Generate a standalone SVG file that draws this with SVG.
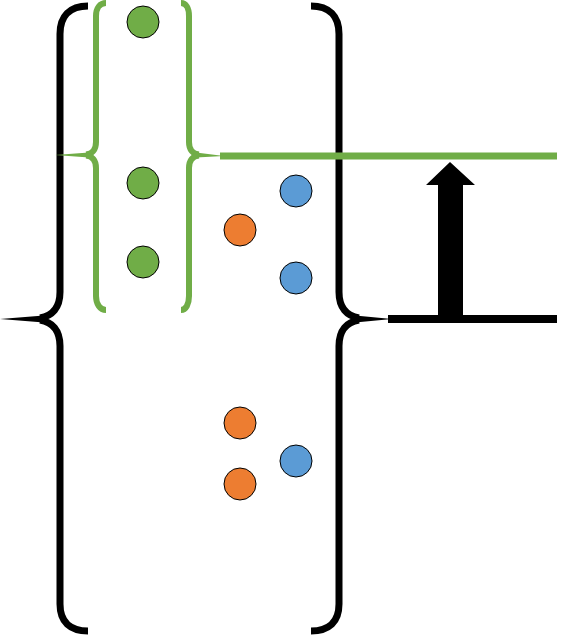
<svg xmlns="http://www.w3.org/2000/svg" width="563" height="636" viewBox="0 0 563 636">
<style>
.bk{fill:none;stroke:#000;stroke-width:7;stroke-linecap:butt}
.gn{fill:none;stroke:#70AD47;stroke-width:6;stroke-linecap:butt}
.g{fill:#70AD47;stroke:#000;stroke-width:1}
.o{fill:#ED7D31;stroke:#000;stroke-width:1}
.b{fill:#5B9BD5;stroke:#000;stroke-width:1}
</style>
<rect width="563" height="636" fill="#fff"/>
<g id="brace-outer-left">
<path class="bk" d="M88,6 C70,6 60,16 60,34 L60,292 C60,308 52,316 40,318"/>
<path class="bk" d="M40,320 C52,322 60,330 60,346 L60,604 C60,622 70,631 88,631"/>
<polygon points="44,315.5 44,322.5 0,319" fill="#000"/>
</g>
<g id="brace-outer-right">
<path class="bk" d="M311,6 C329,6 339,16 339,34 L339,292 C339,308 347,316 359,318"/>
<path class="bk" d="M359,320 C347,322 339,330 339,346 L339,604 C339,622 329,631 311,631"/>
<polygon points="355,315.5 355,322.5 392,319" fill="#000"/>
</g>
<g id="brace-green-left">
<path class="gn" d="M106,3 C100,3 96,8 96,16 L96,142 C96,150 92,154 86,154.5"/>
<path class="gn" d="M86,155.5 C92,156 96,160 96,168 L96,296 C96,304 100,310 106,310"/>
<polygon points="89,152.5 89,157.5 55,155" fill="#70AD47"/>
</g>
<g id="brace-green-right">
<path class="gn" d="M181,3 C186,3 189,8 189,16 L189,142 C189,150 193,154 199,154.5"/>
<path class="gn" d="M199,155.5 C193,156 189,160 189,168 L189,296 C189,304 186,310 181,310"/>
<polygon points="196,152.5 196,157.5 224,156" fill="#70AD47"/>
</g>
<g id="connectors">
<line x1="220" y1="156" x2="557" y2="156" stroke="#70AD47" stroke-width="7"/>
<line x1="388" y1="319" x2="557" y2="319" stroke="#000" stroke-width="8"/>
<polygon id="arrow" points="438,319 463,319 463,185 475,185 450,162 426,185 438,185" fill="#000"/>
</g>
<g id="green-dots">
<circle class="g" cx="143" cy="22" r="16"/>
<circle class="g" cx="143" cy="183" r="16"/>
<circle class="g" cx="143" cy="262" r="16"/>
</g>
<g id="orange-dots">
<circle class="o" cx="240" cy="230" r="16"/>
<circle class="o" cx="240" cy="423" r="16"/>
<circle class="o" cx="240" cy="484" r="16"/>
</g>
<g id="blue-dots">
<circle class="b" cx="296" cy="191" r="16"/>
<circle class="b" cx="296" cy="278" r="16"/>
<circle class="b" cx="296" cy="461" r="16"/>
</g>
</svg>
